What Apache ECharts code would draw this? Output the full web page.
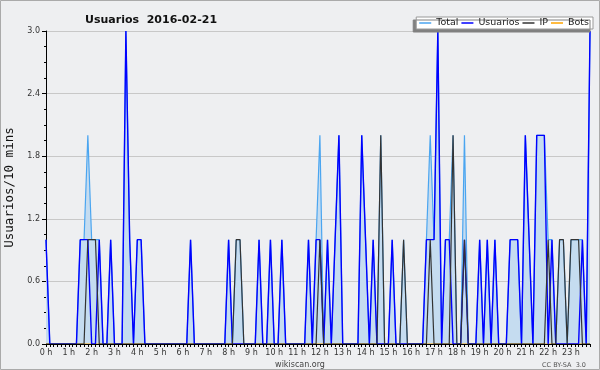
<!DOCTYPE html>
<html>
<head>
<meta charset="utf-8">
<script src="https://cdn.jsdelivr.net/npm/echarts@6/dist/echarts.min.js"></script>
<style>
  html, body { margin: 0; padding: 0; }
  .chart { width: 600px; height: 370px; background: #eeeff1; }
</style>
</head>
<body>
<div class="chart"></div>
<script>
// one point every 10 minutes, 0 h .. 23 h 50
var hourLabels = ['0 h', '1 h', '2 h', '3 h', '4 h', '5 h', '6 h', '7 h', '8 h', '9 h', '10 h', '11 h',
                  '12 h', '13 h', '14 h', '15 h', '16 h', '17 h', '18 h', '19 h', '20 h', '21 h', '22 h', '23 h'];
var yTicks = [0, 0.6, 1.2, 1.8, 2.4, 3.0];

var total = [
    1,0,0,0,0,0, 0,0,0,1,1,2,
    1,1,1,0,0,1, 0,0,0,3,1,0,
    1,1,0,0,0,0, 0,0,0,0,0,0,
    0,0,1,0,0,0, 0,0,0,0,0,0,
    1,0,1,1,0,0, 0,0,1,0,0,1,
    0,0,1,0,0,0, 0,0,0,1,0,1,
    2,0,1,0,1,2, 0,0,0,0,0,2,
    1,0,1,0,2,0, 0,1,0,0,1,0,
    0,0,0,0,1,2, 1,3,0,1,1,2,
    0,0,2,0,0,0, 1,0,1,0,1,0,
    0,0,1,1,1,0, 2,1,0,2,2,2,
    1,1,0,1,1,0, 1,1,1,1,0,3
];
var usuarios = [
    1,0,0,0,0,0, 0,0,0,1,1,1,
    0,0,1,0,0,1, 0,0,0,3,1,0,
    1,1,0,0,0,0, 0,0,0,0,0,0,
    0,0,1,0,0,0, 0,0,0,0,0,0,
    1,0,0,0,0,0, 0,0,1,0,0,1,
    0,0,1,0,0,0, 0,0,0,1,0,1,
    1,0,1,0,1,2, 0,0,0,0,0,2,
    1,0,1,0,0,0, 0,1,0,0,0,0,
    0,0,0,0,1,1, 1,3,0,1,1,0,
    0,0,1,0,0,0, 1,0,1,0,1,0,
    0,0,1,1,1,0, 2,1,0,2,2,2,
    0,1,0,0,0,0, 0,0,0,1,0,3
];
var ip = [
    0,0,0,0,0,0, 0,0,0,0,0,1,
    1,1,0,0,0,0, 0,0,0,0,0,0,
    0,0,0,0,0,0, 0,0,0,0,0,0,
    0,0,0,0,0,0, 0,0,0,0,0,0,
    0,0,1,1,0,0, 0,0,0,0,0,0,
    0,0,0,0,0,0, 0,0,0,0,0,0,
    1,0,0,0,0,0, 0,0,0,0,0,0,
    0,0,0,0,2,0, 0,0,0,0,1,0,
    0,0,0,0,0,1, 0,0,0,0,0,2,
    0,0,1,0,0,0, 0,0,0,0,0,0,
    0,0,0,0,0,0, 0,0,0,0,0,0,
    1,0,0,1,1,0, 1,1,1,0,0,0
];
var bots = [
    0,0,0,0,0,0, 0,0,0,0,0,0,
    0,0,0,0,0,0, 0,0,0,0,0,0,
    0,0,0,0,0,0, 0,0,0,0,0,0,
    0,0,0,0,0,0, 0,0,0,0,0,0,
    0,0,0,0,0,0, 0,0,0,0,0,0,
    0,0,0,0,0,0, 0,0,0,0,0,0,
    0,0,0,0,0,0, 0,0,0,0,0,0,
    0,0,0,0,0,0, 0,0,0,0,0,0,
    0,0,0,0,0,0, 0,0,0,0,0,0,
    0,0,0,0,0,0, 0,0,0,0,0,0,
    0,0,0,0,0,0, 0,0,0,0,0,0,
    0,0,0,0,0,0, 0,0,0,0,0,0
];

(function () {
    var slots = [];
    hourLabels.forEach(function (h) {
        for (var m = 0; m < 6; m++) slots.push(m === 0 ? h : '');
    });

    var myChart = echarts.init(document.querySelector('.chart'));
    var option = {
        animation: false,
        textStyle: { fontFamily: 'DejaVu Sans' },
        graphic: [{
            type: 'rect',
            silent: true,
            shape: { x: 0.5, y: 0.5, width: 599, height: 369 },
            style: { fill: 'none', stroke: '#aaa', lineWidth: 1 }
        }],
        title: [
            {
                text: 'Usuarios  2016-02-21',
                left: 80,
                top: 10,
                textStyle: { fontSize: 11, fontWeight: 'bold', color: '#111', fontFamily: 'DejaVu Sans' }
            },
            {
                text: 'wikiscan.org',
                left: 'center',
                top: 356,
                textStyle: { fontSize: 8, fontWeight: 'normal', color: '#444' }
            },
            {
                text: 'CC BY-SA  3.0',
                right: 9,
                top: 357,
                textStyle: { fontSize: 6.5, fontWeight: 'normal', color: '#555' }
            }
        ],
        legend: {
            right: 7,
            top: 17,
            padding: [1, 4, 1, 3],
            itemGap: 3,
            itemWidth: 12,
            itemHeight: 1.5,
            icon: 'rect',
            backgroundColor: '#fff',
            borderColor: '#999',
            borderWidth: 1,
            shadowColor: '#808080',
            shadowOffsetX: -3,
            shadowOffsetY: 3,
            shadowBlur: 0,
            textStyle: { fontSize: 9.5, color: '#222' },
            data: ['Total', 'Usuarios', 'IP', 'Bots']
        },
        grid: { left: 46, right: 10, top: 31, bottom: 26, outerBoundsMode: 'none' },
        xAxis: {
            type: 'category',
            boundaryGap: false,
            data: slots,
            z: 10,
            axisLine: { lineStyle: { color: '#000', width: 1 } },
            axisTick: { interval: 0, length: 3, lineStyle: { color: '#000' } },
            axisLabel: { interval: 5, fontSize: 8, color: '#333', margin: 5 },
            splitLine: { show: false }
        },
        yAxis: {
            type: 'value',
            min: yTicks[0],
            max: yTicks[yTicks.length - 1],
            interval: 0.6,
            name: 'Usuarios/10 mins',
            nameLocation: 'middle',
            nameGap: 30,
            nameTextStyle: { fontFamily: 'DejaVu Sans Mono', fontSize: 12.5, color: '#111' },
            axisLine: { show: true, lineStyle: { color: '#000' } },
            axisTick: { show: true, length: 4, lineStyle: { color: '#000' } },
            minorTick: { show: true, splitNumber: 4, length: 2, lineStyle: { color: '#000' } },
            axisLabel: {
                fontSize: 8, color: '#333', margin: 6,
                formatter: function (v) { return v.toFixed(1); }
            },
            splitLine: { lineStyle: { color: '#c8c8c8', width: 1 } }
        },
        series: [
            {
                name: 'Bots',
                type: 'line',
                data: bots,
                symbol: 'none',
                lineStyle: { color: '#ffa500', width: 1 },
                itemStyle: { color: '#ffa500' }
            },
            {
                name: 'Total',
                type: 'line',
                data: total,
                symbol: 'none',
                lineStyle: { color: '#4aa5f0', width: 1.2 },
                itemStyle: { color: '#4aa5f0' },
                areaStyle: { color: '#c5dcf0', opacity: 1 }
            },
            {
                name: 'Usuarios',
                type: 'line',
                data: usuarios,
                symbol: 'none',
                lineStyle: { color: '#0000ff', width: 1.4 },
                itemStyle: { color: '#0000ff' }
            },
            {
                name: 'IP',
                type: 'line',
                data: ip,
                symbol: 'none',
                lineStyle: { color: '#333', width: 1.2 },
                itemStyle: { color: '#333' }
            }
        ]
    };

    myChart.setOption(option);
    window.addEventListener('resize', function () {
        myChart.resize();
    });
})();
</script>
</body>
</html>
